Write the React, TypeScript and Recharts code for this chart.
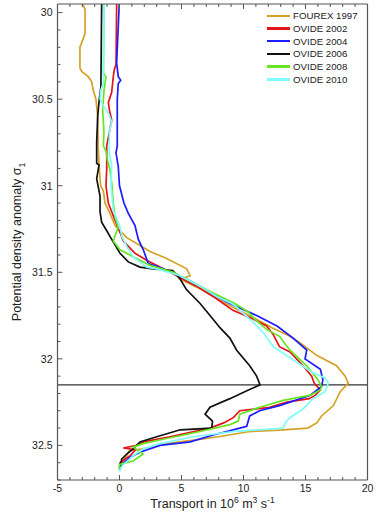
import React from 'react'
import { LineChart, Line, XAxis, YAxis, ReferenceLine, Legend } from 'recharts'

document.body.style.margin = '0'

const X_TICKS = [-5, -4, -3, -2, -1, 0, 1, 2, 3, 4, 5, 6, 7, 8, 9, 10, 11, 12, 13, 14, 15, 16, 17, 18, 19, 20]
const X_LABELS = [-5, 0, 5, 10, 15, 20]
const Y_TICKS = [30, 30.1, 30.2, 30.3, 30.4, 30.5, 30.6, 30.7, 30.8, 30.9, 31, 31.1, 31.2, 31.3, 31.4,
  31.5, 31.6, 31.7, 31.8, 31.9, 32, 32.1, 32.2, 32.3, 32.4, 32.5, 32.6, 32.7]
const Y_LABELS = [30, 30.5, 31, 31.5, 32, 32.5]
const SIGMA_REF = 32.15

// [sigma1, transport]
const FOUREX_1997: [number, number][] = [
  [29.95, -3.0], [29.98, -2.78], [30.12, -2.78], [30.15, -2.92], [30.2, -3.19], [30.32, -3.19],
  [30.34, -3.05], [30.37, -2.52], [30.4, -2.24], [30.45, -2.11], [30.5, -1.9], [30.6, -1.76],
  [30.79, -1.71], [30.9, -1.63], [31.0, -1.52], [31.03, -1.3], [31.1, -1.17], [31.16, -0.77],
  [31.23, -0.36], [31.3, 0.58], [31.34, 1.52], [31.38, 2.46], [31.42, 3.8], [31.48, 5.42],
  [31.52, 5.69], [31.54, 4.88], [31.6, 6.6], [31.65, 7.8], [31.7, 9.1], [31.77, 11.0],
  [31.82, 12.3], [31.87, 13.75], [31.91, 14.6], [31.98, 15.9], [32.04, 17.5], [32.1, 18.2],
  [32.14, 18.45], [32.19, 17.8], [32.27, 17.25], [32.33, 16.3], [32.37, 15.9], [32.4, 15.2],
  [32.41, 13.2], [32.42, 10.5], [32.45, 8.0], [32.47, 6.0], [32.49, 3.8], [32.52, 1.9],
  [32.53, 0.8], [32.58, 0.4], [32.63, 0.1],
]

const OVIDE_2002: [number, number][] = [
  [29.95, -0.23], [30.3, -0.28], [30.33, -0.42], [30.37, -0.5], [30.46, -0.63], [30.52, -0.9],
  [30.56, -0.82], [30.62, -0.63], [30.69, -0.82], [30.77, -1.03], [30.9, -1.03], [31.0, -1.09],
  [31.1, -0.9], [31.2, -0.36], [31.27, 0.04], [31.32, 0.31], [31.36, 0.85], [31.39, 1.25],
  [31.43, 2.19], [31.48, 3.53], [31.52, 4.6], [31.58, 6.2], [31.64, 7.56], [31.72, 9.15],
  [31.77, 10.77], [31.81, 11.87], [31.86, 12.4], [31.93, 12.9], [31.96, 13.75], [32.04, 14.8],
  [32.1, 15.5], [32.14, 15.7], [32.18, 16.2], [32.21, 15.8], [32.23, 15.3], [32.25, 13.5],
  [32.28, 12.1], [32.3, 9.7], [32.34, 9.18], [32.37, 8.4], [32.4, 7.3], [32.45, 4.07],
  [32.48, 1.92], [32.5, 1.4], [32.515, 0.31], [32.525, 1.3], [32.56, 0.85], [32.6, 0.04],
  [32.63, 0.0],
]

const OVIDE_2004: [number, number][] = [
  [29.95, -0.02], [30.29, -0.23], [30.37, -0.1], [30.39, 0.1], [30.41, -0.1], [30.5, -0.18],
  [30.77, -0.18], [30.81, -0.28], [30.89, -0.1], [31.0, 0.0], [31.1, 0.36], [31.16, 0.71],
  [31.23, 1.25], [31.31, 1.52], [31.37, 1.92], [31.45, 2.32], [31.48, 3.53], [31.54, 5.42],
  [31.58, 6.5], [31.64, 7.84], [31.68, 8.9], [31.75, 11.06], [31.81, 12.7], [31.88, 14.0],
  [31.95, 15.1], [32.0, 14.96], [32.06, 16.2], [32.12, 16.4], [32.16, 16.3], [32.21, 15.4],
  [32.27, 12.9], [32.3, 11.3], [32.33, 10.5], [32.39, 10.26], [32.4, 9.7], [32.44, 7.56],
  [32.48, 5.7], [32.5, 3.26], [32.54, 1.65], [32.57, 0.85], [32.62, 0.04], [32.64, 0.0],
]

const OVIDE_2006: [number, number][] = [
  [29.95, -1.44], [30.43, -1.5], [30.5, -1.63], [30.6, -1.76], [30.75, -1.84], [30.87, -1.84],
  [30.88, -1.65], [30.96, -1.84], [31.06, -1.57], [31.15, -1.57], [31.21, -1.44], [31.26, -1.03],
  [31.31, -0.63], [31.39, 0.04], [31.44, 0.71], [31.47, 1.65], [31.48, 2.7], [31.49, 4.3],
  [31.54, 4.9], [31.6, 5.4], [31.68, 6.5], [31.75, 7.3], [31.82, 8.1], [31.88, 8.9],
  [31.95, 9.45], [32.04, 10.5], [32.1, 11.06], [32.15, 11.33], [32.18, 10.4], [32.23, 8.9],
  [32.28, 7.3], [32.32, 6.9], [32.36, 7.5], [32.4, 7.44], [32.41, 4.9], [32.45, 3.0],
  [32.48, 1.65], [32.52, 1.1], [32.55, 0.58], [32.58, 0.18], [32.62, 0.05],
]

const OVIDE_2008: [number, number][] = [
  [29.95, -1.25], [30.35, -1.3], [30.37, -1.09], [30.45, -1.25], [30.56, -1.36], [30.69, -1.25],
  [30.77, -1.3], [30.8, -1.09], [30.85, -0.98], [30.91, -0.77], [30.98, -0.63], [31.1, -0.5],
  [31.18, -0.36], [31.24, -0.1], [31.29, -0.36], [31.32, -0.5], [31.37, 0.04], [31.41, 1.1],
  [31.46, 2.46], [31.5, 4.34], [31.56, 5.95], [31.62, 7.56], [31.68, 9.3], [31.73, 10.4],
  [31.77, 10.9], [31.83, 11.87], [31.87, 12.9], [31.95, 13.75], [32.04, 15.1], [32.12, 16.0],
  [32.16, 16.3], [32.18, 16.2], [32.21, 15.4], [32.24, 13.2], [32.28, 11.3], [32.32, 9.7],
  [32.36, 9.58], [32.38, 8.9], [32.42, 6.5], [32.46, 3.8], [32.49, 1.92], [32.51, 1.1],
  [32.55, 1.9], [32.59, 1.1], [32.61, 0.0], [32.64, 0.0],
]

const OVIDE_2010: [number, number][] = [
  [29.95, -1.25], [30.41, -1.3], [30.45, -1.52], [30.5, -1.57], [30.54, -1.3], [30.58, -0.9],
  [30.63, -0.63], [30.69, -0.82], [30.81, -0.82], [30.88, -0.63], [31.0, -0.69], [31.04, -0.63],
  [31.14, -0.5], [31.24, 0.04], [31.29, 0.18], [31.35, 0.58], [31.41, 1.1], [31.47, 2.19],
  [31.48, 3.0], [31.52, 4.88], [31.58, 6.5], [31.64, 7.84], [31.68, 9.05], [31.7, 9.45],
  [31.72, 9.7], [31.79, 10.8], [31.85, 11.6], [31.93, 12.4], [32.02, 14.3], [32.08, 15.6],
  [32.11, 16.57], [32.14, 16.84], [32.19, 16.57], [32.23, 15.6], [32.29, 14.8], [32.34, 13.75],
  [32.37, 13.35], [32.4, 13.2], [32.42, 9.15], [32.45, 5.95], [32.49, 3.26], [32.52, 1.92],
  [32.56, 1.1], [32.62, 0.18], [32.65, 0.0],
]

const SERIES = [
  { id: 'f1997', name: 'FOUREX 1997', color: '#d4a227', points: FOUREX_1997 },
  { id: 'o2002', name: 'OVIDE 2002', color: '#e5141c', points: OVIDE_2002 },
  { id: 'o2004', name: 'OVIDE 2004', color: '#1c1cff', points: OVIDE_2004 },
  { id: 'o2006', name: 'OVIDE 2006', color: '#111111', points: OVIDE_2006 },
  { id: 'o2008', name: 'OVIDE 2008', color: '#66e622', points: OVIDE_2008 },
  { id: 'o2010', name: 'OVIDE 2010', color: '#7ffcfc', points: OVIDE_2010 },
]

const FONT = '"Liberation Sans", Arial, sans-serif'
const AXIS = '#555'
const TEXT = '#222'

function BottomTick({ x, y, payload }: any) {
  const major = X_LABELS.includes(payload.value)
  return (
    <g>
      <line x1={x} x2={x} y1={y} y2={y - (major ? 5 : 3)} stroke={AXIS} />
      {major && (
        <text x={x} y={y + 12} textAnchor="middle" fontSize={10.5} fontFamily={FONT} fill={TEXT}>
          {payload.value}
        </text>
      )}
    </g>
  )
}

function TopTick({ x, y, payload }: any) {
  const major = X_LABELS.includes(payload.value)
  return <line x1={x} x2={x} y1={y} y2={y + (major ? 5 : 3)} stroke={AXIS} />
}

function LeftTick({ x, y, payload }: any) {
  const major = Y_LABELS.includes(payload.value)
  return (
    <g>
      <line x1={x} x2={x + (major ? 5 : 3)} y1={y} y2={y} stroke={AXIS} />
      {major && (
        <text x={x - 5} y={y + 3.8} textAnchor="end" fontSize={10.5} fontFamily={FONT} fill={TEXT}>
          {payload.value}
        </text>
      )}
    </g>
  )
}

function RightTick({ x, y, payload }: any) {
  const major = Y_LABELS.includes(payload.value)
  return <line x1={x} x2={x - (major ? 5 : 3)} y1={y} y2={y} stroke={AXIS} />
}

function XTitle({ viewBox }: any) {
  const { x = 57.5, y = 480, width = 310 } = viewBox || {}
  return (
    <text x={x + width / 2} y={y + 28} textAnchor="middle" fontSize={12.5} fontFamily={FONT} fill={TEXT}>
      Transport in 10<tspan dy={-5} fontSize={8.5}>6</tspan>
      <tspan dy={5}> m</tspan><tspan dy={-5} fontSize={8.5}>3</tspan>
      <tspan dy={5}> s</tspan><tspan dy={-5} fontSize={8.5}>-1</tspan>
    </text>
  )
}

function YTitle({ viewBox }: any) {
  const { y = 4, height = 476 } = viewBox || {}
  const cx = 21
  const cy = y + height / 2
  return (
    <text x={cx} y={cy} transform={`rotate(-90, ${cx}, ${cy})`} textAnchor="middle"
      fontSize={12.5} fontFamily={FONT} fill={TEXT}>
      Potential density anomaly σ<tspan dy={4} fontSize={8.5}>1</tspan>
    </text>
  )
}

function LegendBox() {
  return (
    <div style={{ fontFamily: FONT, fontSize: 9.7, color: TEXT }}>
      {SERIES.map(s => (
        <div key={s.id} style={{ display: 'flex', alignItems: 'center', height: 12.7, whiteSpace: 'nowrap' }}>
          <span style={{ display: 'inline-block', width: 23, height: 2.5, background: s.color, marginRight: 3 }} />
          <span>{s.name}</span>
        </div>
      ))}
    </div>
  )
}

export default function App() {
  return (
    <LineChart width={377} height={516} layout="vertical"
      margin={{ top: 3, right: 8.5, bottom: 0, left: 0 }}>
      <XAxis type="number" domain={[-5, 20]} ticks={X_TICKS} interval={0}
        tickSize={0} tickMargin={0} tick={<BottomTick />} height={36}
        axisLine={{ stroke: AXIS, strokeWidth: 1.2 }} allowDataOverflow label={<XTitle />} />
      <XAxis xAxisId="top" orientation="top" type="number" domain={[-5, 20]} ticks={X_TICKS}
        interval={0} tickSize={0} tickMargin={0} tick={<TopTick />} height={1}
        axisLine={{ stroke: AXIS, strokeWidth: 1.2 }} allowDataOverflow />
      <YAxis type="number" dataKey="s" domain={[29.95, 32.7]} ticks={Y_TICKS} interval={0}
        tickSize={0} tickMargin={0} tick={<LeftTick />} width={57.5}
        axisLine={{ stroke: AXIS, strokeWidth: 1.2 }} allowDataOverflow label={<YTitle />} />
      <YAxis yAxisId="right" orientation="right" type="number" domain={[29.95, 32.7]} ticks={Y_TICKS}
        interval={0} tickSize={0} tickMargin={0} tick={<RightTick />} width={1}
        axisLine={{ stroke: AXIS, strokeWidth: 1.2 }} allowDataOverflow />
      <ReferenceLine y={SIGMA_REF} stroke="#333" strokeWidth={1.2} />
      {SERIES.map(s => (
        <Line key={s.id} name={s.name} data={s.points.map(([sg, v]) => ({ s: sg, v }))}
          dataKey="v" type="linear" stroke={s.color} strokeWidth={1.7}
          dot={false} activeDot={false} isAnimationActive={false} />
      ))}
      <Legend content={() => <LegendBox />} layout="vertical" align="center" verticalAlign="middle"
        wrapperStyle={{ top: 9.5, left: 267, width: 100, height: 80 }} />
    </LineChart>
  )
}
